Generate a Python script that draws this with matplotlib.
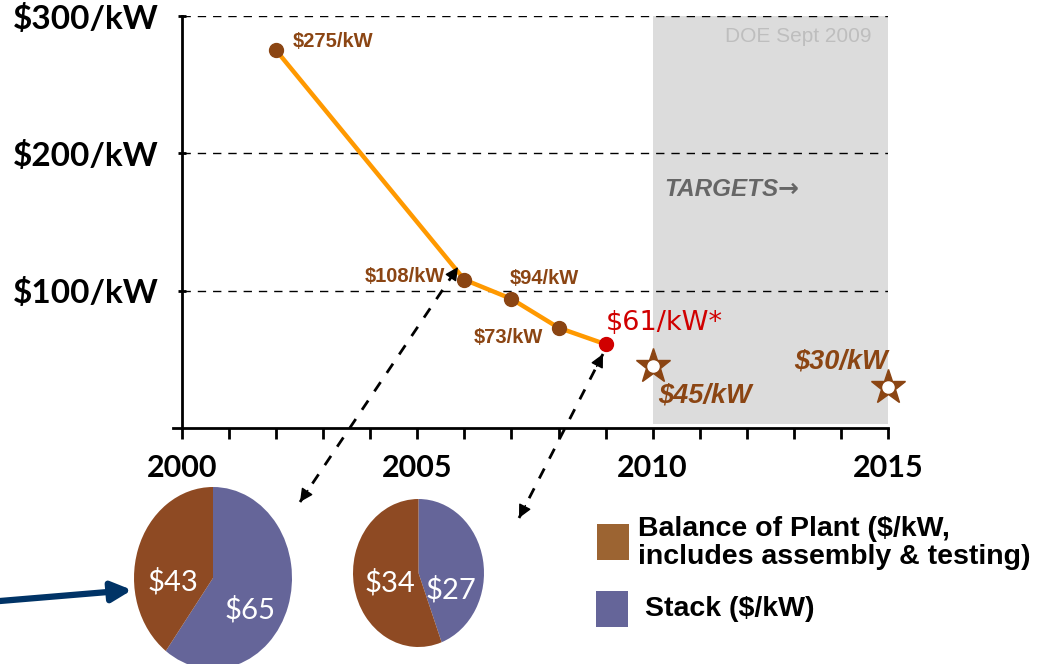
import matplotlib
matplotlib.use("Agg")
import matplotlib.pyplot as plt
from matplotlib.patches import Rectangle, FancyArrowPatch
from matplotlib.lines import Line2D

# données
years = [2002, 2006, 2007, 2008, 2009]
cost = [275, 108, 94, 73, 61]
cost_labels = ["$275/kW", "$108/kW", "$94/kW", "$73/kW", "$61/kW*"]
target_years = [2010, 2015]
target_cost = [45, 30]
target_labels = ["$45/kW", "$30/kW"]
yticks = [100, 200, 300]
ytick_labels = ["$100/kW", "$200/kW", "$300/kW"]
xticks = [2000, 2005, 2010, 2015]

pie_parts = ["Stack ($/kW)", "Balance of Plant ($/kW,\nincludes assembly & testing)"]
pie_2006 = [65, 43]   # stack, balance of plant
pie_2009 = [27, 34]

BROWN = "#8B4513"
ORANGE = "#FF9900"
RED = "#D00000"
PIE_BROWN = "#8E4A23"
PIE_PURPLE = "#656599"
LEG_BROWN = "#9C6432"

W, H = 1044, 664
fig = plt.figure(figsize=(W / 100, H / 100), dpi=100)

def box(x0, y0, x1, y1):
    # pixel box -> figure fraction
    return [x0 / W, 1 - y1 / H, (x1 - x0) / W, (y1 - y0) / H]

def fp(p):
    return (p[0] / W, 1 - p[1] / H)

ax = fig.add_axes(box(172.6, 16, 888, 428))
ax.set_xlim(1999.8, 2015)
ax.set_ylim(0, 300)
for s in ["top", "right"]:
    ax.spines[s].set_visible(False)
ax.spines["left"].set_position(("data", 2000))
ax.spines["left"].set_linewidth(2)
ax.spines["bottom"].set_linewidth(2)

ax.axvspan(2010, 2015, ymin=0.01, ymax=1, color="#DCDCDC", zorder=0, lw=0)
ax.hlines(yticks, 2000, 2015, colors="black", linestyles=(0, (6, 5)), lw=1, zorder=1)

ax.set_xticks(xticks)
ax.set_xticks(range(2000, 2016), minor=True)
ax.set_xticklabels([str(x) for x in xticks], fontfamily="Lato", fontweight="bold", fontsize=22)
ax.tick_params(axis="x", which="both", direction="out", length=8, width=2, pad=11)
ax.set_yticks(yticks)
ax.set_yticklabels(ytick_labels, fontfamily="Lato", fontweight="bold", fontsize=24)
ax.tick_params(axis="y", direction="inout", length=6, width=2, pad=14)

ax.plot(years, cost, color=ORANGE, lw=3.2, zorder=3)
ax.plot(years[:-1], cost[:-1], "o", color=BROWN, ms=10, zorder=4)
ax.plot(years[-1:], cost[-1:], "o", color=RED, ms=10, zorder=4)
ax.plot(target_years, target_cost, "*", color=BROWN, ms=26, clip_on=False, zorder=4)
ax.plot(target_years, target_cost, "o", color="white", ms=8, clip_on=False, zorder=5)

offsets = [(12, 6, "left"), (-14, 2, "right"), (24, 15, "center"), (-36, -7, "center"), (0, 15, "left")]
for i, (dx, dy, ha) in enumerate(offsets):
    if i == len(offsets) - 1:
        ax.annotate(cost_labels[i], (years[i], cost[i]), xytext=(dx, dy), textcoords="offset points",
                    ha=ha, va="center", color=RED, fontsize=19.5, fontfamily="DejaVu Sans")
    else:
        ax.annotate(cost_labels[i], (years[i], cost[i]), xytext=(dx, dy), textcoords="offset points",
                    ha=ha, va="center", color=BROWN, fontsize=14.5, fontweight="bold",
                    fontfamily="Liberation Sans")
for (dx, dy, ha), x, y, lab in zip([(4, -21, "left"), (0, 18, "right")], target_years, target_cost, target_labels):
    ax.annotate(lab, (x, y), xytext=(dx, dy), textcoords="offset points", ha=ha, va="center",
                color=BROWN, fontsize=19.5, fontweight="bold", fontstyle="italic", fontfamily="Liberation Sans")

ax.text(2015 - 0.35, 285, "DOE Sept 2009", ha="right", va="center", color="#BEBEBE", fontsize=15,
        fontfamily="Liberation Sans")
ax.text(2010.25, 174, "TARGETS", ha="left", va="center", color="#666666", fontsize=17.5,
        fontweight="bold", fontstyle="italic", fontfamily="Liberation Sans")
ax.text(2012.66, 174, "\u2192", ha="left", va="center", color="#666666", fontsize=18,
        fontweight="bold", fontfamily="DejaVu Sans")

# camemberts
def draw_pie(vals, cx, cy, rx, ry, lab_pos):
    pax = fig.add_axes(box(cx - rx, cy - ry, cx + rx, cy + ry))
    pax.pie(vals, colors=[PIE_PURPLE, PIE_BROWN], startangle=90, counterclock=False, radius=1,
            wedgeprops=dict(linewidth=0))
    pax.set_aspect("auto")
    pax.set_xlim(-1, 1)
    pax.set_ylim(-1, 1)
    for v, p in zip(vals, lab_pos):
        fig.text(*fp(p), f"${v}", color="white", fontsize=21, fontfamily="Lato",
                 ha="center", va="center", zorder=10)

draw_pie(pie_2006, 213, 578, 79, 91, [(250, 610), (173, 582)])
draw_pie(pie_2009, 418.5, 573, 65.5, 74, [(451, 590), (390, 583)])

# flèches pointillées à deux têtes
def dashed_double(p0, p1):
    a, b = fp(p0), fp(p1)
    fig.add_artist(Line2D([a[0], b[0]], [a[1], b[1]], transform=fig.transFigure, color="black",
                          lw=2, linestyle=(0, (4, 4))))
    for tip, tail in [(p0, p1), (p1, p0)]:
        dx, dy = tail[0] - tip[0], tail[1] - tip[1]
        n = (dx ** 2 + dy ** 2) ** 0.5
        start = (tip[0] + dx / n * 14, tip[1] + dy / n * 14)
        fig.add_artist(FancyArrowPatch(fp(start), fp(tip), transform=fig.transFigure,
                                       arrowstyle="-|>", color="black", lw=1, mutation_scale=20,
                                       shrinkA=0, shrinkB=0))

dashed_double((300, 502), (458, 267))
dashed_double((519, 518), (603, 354))

fig.add_artist(FancyArrowPatch(fp((0, 601)), fp((132, 590)), transform=fig.transFigure,
                               arrowstyle="-|>", color="#003366", lw=4.5, mutation_scale=30,
                               shrinkA=0, shrinkB=0))

# légende
fig.add_artist(Rectangle(fp((597, 560)), 32 / W, 36 / H, transform=fig.transFigure,
                         color=LEG_BROWN, lw=0))
fig.add_artist(Rectangle(fp((596, 627)), 32 / W, 36 / H, transform=fig.transFigure,
                         color=PIE_PURPLE, lw=0))
fig.text(*fp((638, 543)), pie_parts[1], fontsize=20.5, fontweight="bold", fontfamily="Liberation Sans",
         ha="left", va="center", linespacing=1.09)
fig.text(*fp((645, 609)), pie_parts[0], fontsize=20.5, fontweight="bold", fontfamily="Liberation Sans",
         ha="left", va="center")

fig.savefig("out.png", dpi=100)
